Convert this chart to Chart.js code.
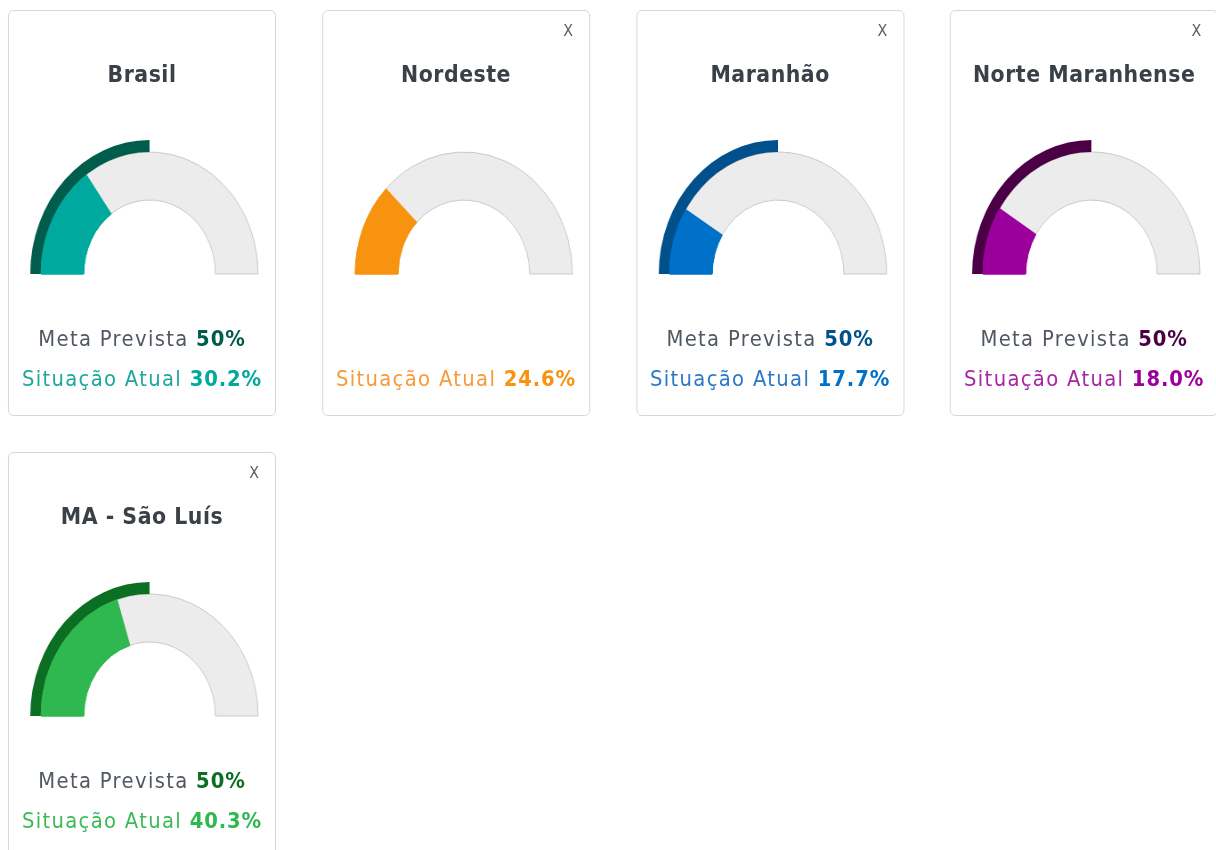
<!DOCTYPE html>
<html lang="pt-BR">
<head>
<meta charset="utf-8">
<title>Metas por região</title>
<script src="https://cdn.jsdelivr.net/npm/chart.js@4.4.1/dist/chart.umd.min.js"></script>
<style>
  html, body { margin: 0; padding: 0; background: #fff; overflow: hidden; }
  body { width: 1216px; height: 850px; }
  #painel {
    width: 1366px;
    transform: scaleX(0.8902);
    transform-origin: 0 0;
    padding: 10px 0 0 9px;
    box-sizing: border-box;
    display: grid;
    grid-template-columns: repeat(4, 301px);
    column-gap: 51.8px;
    row-gap: 36px;
    font-family: "DejaVu Sans", sans-serif;
  }
  .card {
    position: relative;
    width: 301px;
    height: 406px;
    border: 1.5px solid #d4d4d4;
    border-radius: 6px;
    box-sizing: border-box;
  }
  .fechar {
    position: absolute;
    top: 12px;
    right: 18px;
    font-size: 16px;
    line-height: 16px;
    color: #5a5f66;
  }
  .titulo {
    position: absolute;
    left: -20px; right: -20px;
    top: 50px;
    text-align: center;
    font-size: 23px;
    line-height: 26px;
    letter-spacing: 0.6px;
    font-weight: bold;
    color: #3a4048;
    white-space: nowrap;
  }
  .grafico {
    position: absolute;
    left: 13px;
    top: 126px;
    width: 290px;
    height: 140px;
  }
  .linha {
    position: absolute;
    left: -30px; right: -30px;
    text-align: center;
    font-size: 22px;
    line-height: 40px;
    letter-spacing: 1.5px;
    white-space: nowrap;
  }
  .linha b { font-weight: bold; letter-spacing: 1px; }
  .meta { top: 308px; color: #4f5863; }
  .atual { top: 348px; }
</style>
</head>
<body>
<div id="painel"></div>
<script>
// regiões e indicadores
const regioes = ['Brasil', 'Nordeste', 'Maranhão', 'Norte Maranhense', 'MA - São Luís'];
const metaPrevista = [50, null, 50, 50, 50];
const situacaoAtual = [30.2, 24.6, 17.7, 18.0, 40.3];
const podeFechar = [false, true, true, true, true];

// cores de cada região: meta (escura), situação atual, texto da situação
const corMeta = ['#005c4b', '#c46a00', '#00508c', '#4b0046', '#0b6e22'];
const corAtual = ['#00a99d', '#f7930f', '#0071c8', '#9c009c', '#2fb84f'];
const corTexto = ['#1ea89b', '#f79a3a', '#2a78c9', '#a626a6', '#3cba58'];

const cinzaFundo = '#ececec';
const cinzaBorda = '#c9c9c9';

// redesenha o arco da situação atual por cima da borda do fundo cinza
const atualPorCima = {
  id: 'atualPorCima',
  afterDatasetsDraw(chart) {
    const arco = chart.getDatasetMeta(1).data[0];
    if (arco) arco.draw(chart.ctx);
  }
};

const painel = document.getElementById('painel');

regioes.forEach(function (nome, i) {
  const card = document.createElement('div');
  card.className = 'card';

  if (podeFechar[i]) {
    const x = document.createElement('div');
    x.className = 'fechar';
    x.textContent = 'X';
    card.appendChild(x);
  }

  const titulo = document.createElement('div');
  titulo.className = 'titulo';
  titulo.textContent = nome;
  card.appendChild(titulo);

  const box = document.createElement('div');
  box.className = 'grafico';
  const canvas = document.createElement('canvas');
  canvas.width = 290;
  canvas.height = 140;
  box.appendChild(canvas);
  card.appendChild(box);

  if (metaPrevista[i] !== null) {
    const meta = document.createElement('div');
    meta.className = 'linha meta';
    meta.innerHTML = 'Meta Prevista <b></b>';
    meta.querySelector('b').textContent = metaPrevista[i] + '%';
    meta.querySelector('b').style.color = corMeta[i];
    card.appendChild(meta);
  }

  const atual = document.createElement('div');
  atual.className = 'linha atual';
  atual.style.color = corTexto[i];
  atual.innerHTML = 'Situação Atual <b></b>';
  atual.querySelector('b').textContent = situacaoAtual[i].toFixed(1) + '%';
  atual.querySelector('b').style.color = corAtual[i];
  card.appendChild(atual);

  painel.appendChild(card);

  const meta = metaPrevista[i] === null ? 0 : metaPrevista[i];

  new Chart(canvas.getContext('2d'), {
    type: 'doughnut',
    data: {
      labels: ['valor', 'restante'],
      datasets: [
        {
          data: [meta, 100 - meta],
          backgroundColor: [corMeta[i], 'rgba(0,0,0,0)'],
          borderWidth: 0,
          weight: 1
        },
        {
          data: [situacaoAtual[i], 100 - situacaoAtual[i]],
          backgroundColor: [corAtual[i], cinzaFundo],
          borderColor: [corAtual[i], cinzaBorda],
          borderWidth: [1, 1],
          weight: 4
        }
      ]
    },
    options: {
      responsive: false,
      animation: false,
      events: [],
      rotation: -90,
      circumference: 180,
      radius: 134,
      cutout: '55.2%',
      layout: { padding: 0 },
      plugins: {
        legend: { display: false },
        tooltip: { enabled: false }
      }
    },
    plugins: [atualPorCima]
  });
});
</script>
</body>
</html>
